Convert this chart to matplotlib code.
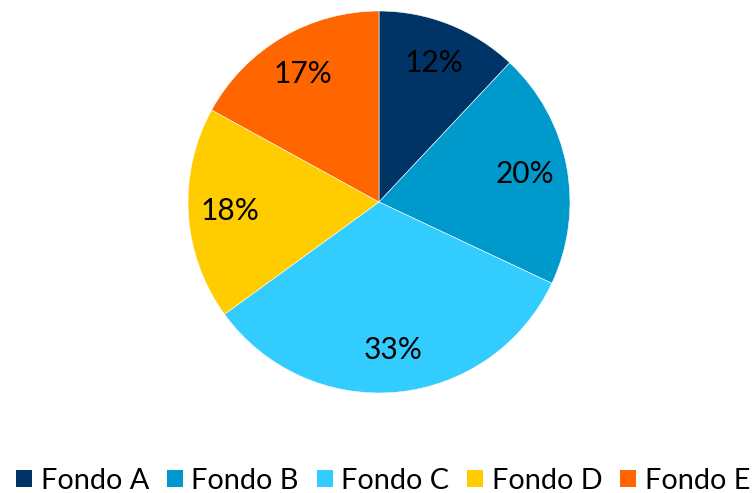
import matplotlib
matplotlib.use("Agg")
import matplotlib.pyplot as plt
from matplotlib.patches import Patch

categories = ["Fondo A", "Fondo B", "Fondo C", "Fondo D", "Fondo E"]
values = [12, 20, 33, 18, 17]
colors = ["#003366", "#0099CC", "#33CCFF", "#FFCC00", "#FF6600"]

plt.rcParams['font.family'] = ['Lato', 'Liberation Sans', 'DejaVu Sans']

W, H = 756, 493
fig = plt.figure(figsize=(W / 100, H / 100), dpi=100)
cx, cy, r = 379, 202, 191
ax = fig.add_axes([(cx - r) / W, (H - cy - r) / H, 2 * r / W, 2 * r / H])

wedges, texts, autotexts = ax.pie(
    values, colors=colors, startangle=90, counterclock=False,
    autopct=lambda p: f"{p:.0f}%", pctdistance=0.78,
    wedgeprops=dict(edgecolor="white", linewidth=0.4),
    textprops=dict(fontsize=21.5, color="black"))
ax.set_xlim(-1, 1)
ax.set_ylim(-1, 1)
ax.set_aspect("equal")

handles = [Patch(facecolor=c, edgecolor="none") for c in colors]
fig.legend(handles, categories, loc="center left",
           bbox_to_anchor=(16 / W, (H - 481) / H), ncol=5, frameon=False,
           fontsize=20.8, handlelength=0.55, handleheight=0.55,
           handletextpad=0.3, columnspacing=0.62, borderpad=0,
           borderaxespad=0)

fig.savefig("out.png", dpi=100)
